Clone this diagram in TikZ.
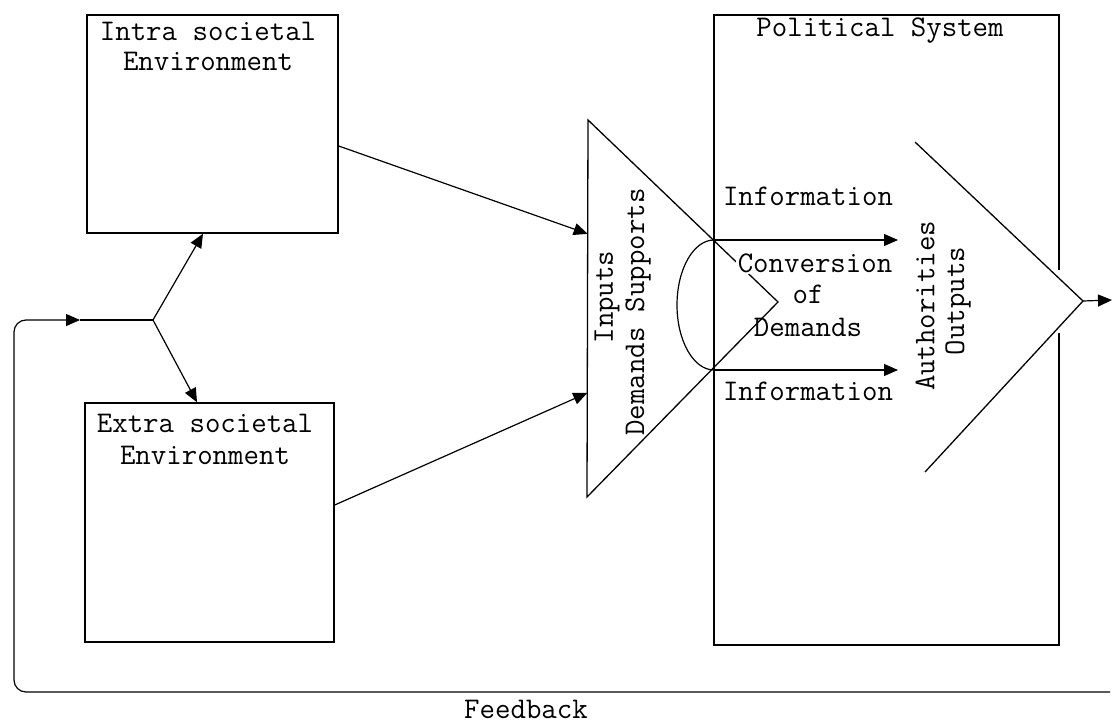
\documentclass[tikz,border=0pt]{standalone}
\usepackage{fontspec}
\usetikzlibrary{arrows.meta,calc}
\begin{document}
\begin{tikzpicture}[x=1pt,y=-1pt,
  line width=1.3pt,
  lbl/.style={font=\ttfamily\fontsize{30}{30}\selectfont, inner sep=0pt, align=center},
  envbox/.style={draw, line width=1.4pt, inner sep=0pt},
  tip/.style={-{Triangle[length=14pt,width=12pt]}},
  thinline/.style={line width=1.2pt}
]
\useasboundingbox[fill=white] (0,0) rectangle (1117,725);

% environment boxes
\node[envbox, minimum width=251pt, minimum height=218pt] (intra) at (212.5,124) {};
\node[envbox, minimum width=249pt, minimum height=239pt] (extra) at (209.5,522.5) {};
\node[lbl, font=\ttfamily\fontsize{30}{30}\selectfont] (intratxt) at (208,46) {Intra societal\\Environment};
\node[lbl, font=\ttfamily\fontsize{30}{32}\selectfont] (extratxt) at (205,439) {Extra societal\\Environment};

% political system box (right edge interrupted by the outputs chevron)
\coordinate (psTL) at (714,15);
\coordinate (psBL) at (714,645);
\draw[line width=1.4pt] (1059,270) -- (1059,15) -- (psTL) -- (psBL) -- (1059,645) -- (1059,333);
\node[lbl] (pstxt) at (880,31) {Political System};

% inputs triangle
\coordinate (tTop) at (588,120);
\coordinate (tBot) at (587,497);
\coordinate (tApex) at (778,302);
\draw (tTop) -- (tBot) -- (tApex) -- cycle;
\node[lbl, rotate=90] (inputs) at (607,297) {Inputs};
\node[lbl, rotate=90] (demsup) at (638,312) {Demands Supports};

% conversion
\coordinate (cu) at (714,240);
\coordinate (cl) at (714,370);
\draw[thinline] (cu) arc[start angle=270, end angle=90, x radius=37, y radius=65];
\node[lbl, fill=white, inner sep=1.5pt] (conv) at (815,263) {Conversion};
\node[lbl, font=\ttfamily\fontsize{30}{33}\selectfont] (ofdem) at (808,311) {of\\Demands};

% information arrows
\node[lbl] (info1) at (808,196) {Information};
\node[lbl] (info2) at (808,391) {Information};
\coordinate (i1end) at (898,240);
\coordinate (i2end) at (898,370);
\draw[thinline, tip] (cu) -- (i1end);
\draw[thinline, tip] (cl) -- (i2end);

% outputs chevron
\coordinate (oTop) at (915,142);
\coordinate (oApex) at (1083,301);
\coordinate (oBot) at (925,472);
\draw (oTop) -- (oApex) -- (oBot);
\node[lbl, rotate=90] (auth) at (925,306) {Authorities};
\node[lbl, rotate=90] (outp) at (958,301) {Outputs};
\coordinate (oEnd) at (1112,300);
\draw[thinline, tip] (oApex) -- (oEnd);

% environment to inputs
\draw[thinline, tip] (intra.east |- 0,146) -- ($(tTop)!0.302!(tBot)$);
\draw[thinline, tip] (extra.east |- 0,505) -- ($(tTop)!0.724!(tBot)$);

% feedback loop
\coordinate (fbR) at (1110,692);
\coordinate (fbA) at (80,320);
\coordinate (junc) at (153,320);
\draw[thinline, tip, rounded corners=12pt] (fbR) -- (14,692) -- (14,320) -- (fbA);
\draw[thinline] (fbA) -- (junc);
\draw[thinline, tip] (junc) -- (intra.south -| 203,0);
\draw[thinline, tip] (junc) -- (extra.north -| 197,0);
\node[lbl] (fbtxt) at (526,709) {Feedback};
\end{tikzpicture}
\end{document}
